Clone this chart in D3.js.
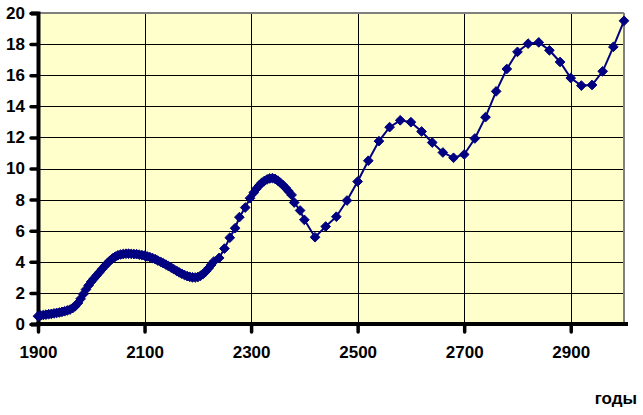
<!DOCTYPE html>
<html>
<head>
<meta charset="utf-8">
<script src="https://cdn.jsdelivr.net/npm/d3@7"></script>
<style>
  html, body { margin: 0; padding: 0; background: #ffffff; }
  svg { display: block; }
  text { font-family: "Liberation Sans", Arial, sans-serif; font-weight: bold; fill: #000; }
</style>
</head>
<body>
<svg id="chart" width="643" height="415"></svg>
<script>
// ---- data ----
const years = [
  1900,1905,1910,1915,1920,1925,1930,1935,1940,1945,1950,1955,1960,1965,1970,1975,1980,1985,1990,1995,
  2000,2005,2010,2015,2020,2025,2030,2035,2040,2045,2050,2055,2060,2065,2070,2075,2080,2085,2090,2095,
  2100,2105,2110,2115,2120,2125,2130,2135,2140,2145,2150,2155,2160,2165,2170,2175,2180,2185,2190,2195,
  2200,2205,2210,2215,2220,2225,2230,2240,2250,2260,2270,2278,2289,2298,2305,2310,2315,2320,2325,2330,
  2335,2340,2345,2350,2355,2360,2365,2370,2376,2381,2392,2400,2420,2440,2460,2480,2500,2520,2540,2560,
  2580,2600,2620,2640,2660,2680,2700,2720,2740,2760,2780,2800,2820,2840,2860,2880,2900,2920,2940,2960,
  2980,3000
];
const values = [
  0.50,0.55,0.58,0.60,0.63,0.65,0.68,0.71,0.74,0.78,0.82,0.87,0.93,1.02,1.15,1.35,1.62,1.92,2.22,2.48,
  2.72,2.92,3.12,3.32,3.52,3.72,3.90,4.07,4.22,4.33,4.42,4.47,4.50,4.52,4.52,4.51,4.50,4.49,4.46,4.43,
  4.40,4.35,4.30,4.24,4.17,4.08,4.00,3.91,3.82,3.72,3.62,3.52,3.42,3.32,3.23,3.15,3.08,3.03,3.00,2.99,
  3.02,3.10,3.22,3.38,3.58,3.80,4.02,4.25,4.85,5.55,6.16,6.87,7.49,8.09,8.45,8.70,8.90,9.08,9.20,9.30,
  9.36,9.38,9.33,9.22,9.08,8.92,8.75,8.55,8.30,7.81,7.30,6.70,5.58,6.27,6.90,7.94,9.16,10.50,11.76,12.66,
  13.10,12.98,12.38,11.67,11.03,10.69,10.90,11.93,13.30,14.96,16.40,17.50,18.03,18.11,17.60,16.85,15.82,15.33,15.37,16.25,
  17.82,19.50
];
const xTicks = [1900, 2100, 2300, 2500, 2700, 2900];
const yTicks = [0, 2, 4, 6, 8, 10, 12, 14, 16, 18, 20];
const xTitle = "годы";

// ---- layout ----
const svg = d3.select("#chart");
const pL = 38, pR = 624, pT = 13, pB = 324;

const x = d3.scaleLinear().domain([1900, 3000]).range([pL, pR]);
const y = d3.scaleLinear().domain([0, 20]).range([pB, pT]);

// plot background
svg.append("rect")
  .attr("x", pL).attr("y", pT)
  .attr("width", pR - pL).attr("height", pB - pT)
  .attr("fill", "#FFFFCC");

// gridlines
const grid = svg.append("g");
grid.selectAll("line.h").data(yTicks.filter(v => v > 0 && v < 20)).join("line")
  .attr("x1", pL).attr("x2", pR)
  .attr("y1", d => Math.round(y(d)) + 0.5).attr("y2", d => Math.round(y(d)) + 0.5)
  .attr("stroke", "#000").attr("stroke-width", 1);
grid.selectAll("line.v").data(xTicks.filter(v => v > 1900)).join("line")
  .attr("y1", pT).attr("y2", pB)
  .attr("x1", d => Math.round(x(d)) + 0.5).attr("x2", d => Math.round(x(d)) + 0.5)
  .attr("stroke", "#000").attr("stroke-width", 1);

// top and right gray border
svg.append("line").attr("x1", pL).attr("x2", pR).attr("y1", pT).attr("y2", pT)
  .attr("stroke", "#808080").attr("stroke-width", 2);
svg.append("line").attr("x1", pR).attr("x2", pR).attr("y1", pT).attr("y2", pB)
  .attr("stroke", "#808080").attr("stroke-width", 2);

// axes
const yAxis = d3.axisLeft(y).tickValues(yTicks).tickSize(7).tickPadding(6).tickFormat(d3.format("d"));
const gy = svg.append("g").attr("transform", `translate(${pL},0)`).call(yAxis);
gy.select(".domain").attr("stroke", "#000").attr("stroke-width", 4);
gy.selectAll(".tick line").attr("stroke", "#000").attr("stroke-width", 3.5).attr("stroke-linecap", "round");
gy.selectAll(".tick text").attr("font-size", 17).attr("font-weight", "bold")
  .attr("font-family", "'Liberation Sans', Arial, sans-serif").attr("fill", "#000").attr("x", -13);

const xAxis = d3.axisBottom(x).tickValues(xTicks).tickSize(8).tickPadding(14).tickFormat(d3.format("d"));
const gx = svg.append("g").attr("transform", `translate(0,${pB})`).call(xAxis);
gx.select(".domain").attr("stroke", "#000").attr("stroke-width", 4).attr("d", `M${pL - 2},0H${pR + 4}`);
gx.selectAll(".tick line").attr("stroke", "#000").attr("stroke-width", 3.5).attr("stroke-linecap", "round");
gx.selectAll(".tick text").attr("font-size", 17).attr("font-weight", "bold")
  .attr("font-family", "'Liberation Sans', Arial, sans-serif").attr("fill", "#000");

// axis title
svg.append("text").attr("x", 637).attr("y", 404).attr("text-anchor", "end")
  .attr("font-size", 17).text(xTitle);

// series
const data = years.map((yr, i) => ({ yr, v: values[i] }));
const line = d3.line().x(d => x(d.yr)).y(d => y(d.v));
svg.append("path").datum(data).attr("d", line)
  .attr("fill", "none").attr("stroke", "#000080").attr("stroke-width", 2);

const sym = d3.symbol().type(d3.symbolDiamond2).size(60);
svg.append("g").selectAll("path").data(data).join("path")
  .attr("transform", d => `translate(${x(d.yr)},${y(d.v)})`)
  .attr("d", sym)
  .attr("fill", "#000080").attr("stroke", "#000080").attr("stroke-width", 1);
</script>
</body>
</html>
